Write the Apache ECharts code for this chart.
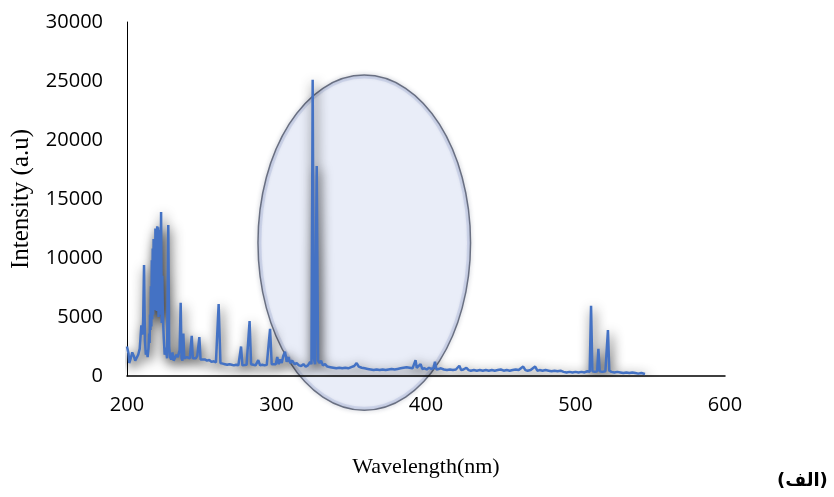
<!DOCTYPE html>
<html>
<head>
<meta charset="utf-8">
<script src="https://cdn.jsdelivr.net/npm/echarts@6/dist/echarts.min.js"></script>
<style>
html,body{margin:0;padding:0;background:#fff;}
#chart{width:834px;height:497px;}
</style>
</head>
<body>
<div id="chart"></div>
<script>
// Wavelength (nm)
var wavelengths = [
200.0,200.5,201.0,201.5,202.5,203.5,204.5,205.5,206.5,207.5,208.5,209.0,209.6,210.2,210.8,211.4,212.0,212.6,213.2,213.8,
214.4,214.8,215.1,215.4,215.7,216.0,216.3,216.6,216.9,217.2,217.5,217.8,218.1,218.4,218.7,219.0,219.3,219.6,219.9,220.2,
220.5,220.8,221.1,221.4,221.7,222.0,222.3,222.8,223.2,223.6,224.0,224.6,225.2,226.0,
226.8,227.6,228.2,228.8,229.6,230.4,231.2,232.0,233.0,234.0,235.2,235.9,236.5,237.1,237.7,238.3,239.0,240.0,241.0,242.0,
243.3,244.0,245.0,246.0,247.0,248.4,249.2,250.5,252.0,253.5,255.0,256.5,258.0,259.5,261.3,262.5,264.0,265.5,267.0,268.5,
270.0,271.5,273.0,274.5,276.3,277.2,278.5,280.0,282.0,283.0,284.5,286.0,287.8,289.0,290.5,292.0,293.5,295.7,296.8,298.0,
299.5,300.5,301.5,302.5,303.5,304.5,305.7,306.8,308.0,309.2,310.5,312.0,313.5,315.0,316.5,318.0,319.5,321.0,322.5,323.4,
324.2,325.0,325.8,326.9,327.8,328.8,329.8,331.0,332.5,334.0,336.0,338.0,340.0,342.0,344.0,346.0,348.0,350.0,352.0,353.6,
355.0,357.0,359.0,361.0,363.0,365.0,367.0,369.0,371.0,373.0,375.0,377.0,379.0,381.0,383.0,385.0,387.0,389.0,391.0,393.0,
393.8,395.0,396.4,397.5,399.0,400.5,402.0,403.5,405.0,406.0,407.0,408.5,410.0,412.0,414.0,416.0,418.0,420.0,422.3,423.5,
425.0,427.0,428.5,430.0,432.0,434.0,436.0,438.0,440.0,442.0,444.0,446.0,448.0,450.0,452.0,454.0,456.0,458.0,460.0,462.0,
465.0,466.5,468.0,470.0,473.0,474.5,476.0,478.0,480.0,482.0,484.0,486.0,488.0,490.0,492.0,494.0,496.0,498.0,500.0,502.0,
504.0,506.0,508.0,509.5,510.4,511.3,513.0,514.5,515.3,516.2,518.0,520.0,521.7,522.6,524.0,526.0,528.0,530.0,532.0,534.0,
536.0,538.0,540.0,542.0,544.0,546.5
];
// Intensity (a.u)
var intensities = [
2500,2200,1900,1100,1500,2000,1700,1300,1400,1800,2300,3200,4300,3500,4600,9400,3000,1800,2200,1600,
2400,3600,2800,5200,3900,7600,4200,9800,4800,10800,5200,11600,6200,10400,5600,12500,6800,11800,5500,12700,
6400,12600,5000,12400,6500,12000,5200,13900,4500,8500,5000,3200,1800,2400,
1500,12800,2500,1600,1400,2000,1300,1500,1800,1600,2200,6200,1500,1300,3600,1500,1400,1600,1700,1500,
3400,1500,1600,1500,1700,3300,1400,1300,1400,1300,1350,1200,1250,1150,6100,1100,1050,1000,950,1000,
950,900,950,900,2500,900,1000,950,4650,1000,950,900,1350,900,950,900,950,4000,1000,900,
1000,1600,1000,1400,1100,1700,2050,1200,1600,1100,1300,1000,1100,900,850,1000,800,900,1200,1000,
25100,1500,1000,17800,1300,1100,1300,900,1000,800,750,700,650,700,650,700,650,750,850,1100,
800,700,650,600,550,500,550,500,550,500,550,600,550,600,650,700,750,700,650,1350,
700,650,1000,600,650,550,700,600,650,1200,550,600,650,550,500,550,500,550,870,500,
550,700,500,450,500,450,500,450,500,450,500,450,500,550,450,500,450,500,550,500,
800,500,450,500,800,450,500,450,500,450,400,450,400,450,350,300,350,300,350,300,
350,300,400,350,5950,400,350,400,2300,400,350,400,3900,450,350,300,350,300,250,300,
250,300,250,200,250,170
];
var xTicks = [200, 300, 400, 500, 600];
var yTicks = [0, 5000, 10000, 15000, 20000, 25000, 30000];
var xTitle = 'Wavelength(nm)';
var yTitle = 'Intensity (a.u)';
var panelLabel = '(الف)';
// highlighted region (data space): center wavelength, center intensity, half-width, half-height
var ellipseCenter = [358.7, 11300];
var ellipseHalf = [71.1, 14200];

var seriesData = wavelengths.map(function (w, i) { return [w, intensities[i]]; });

var chart = echarts.init(document.getElementById('chart'));
var option = {
  animation: false,
  backgroundColor: '#ffffff',
  grid: { left: 127, right: 109, top: 22, bottom: 121, containLabel: false },
  xAxis: {
    type: 'value',
    min: xTicks[0], max: xTicks[xTicks.length - 1], interval: 100,
    name: xTitle, nameLocation: 'middle', nameGap: 80,
    nameTextStyle: { fontFamily: 'Liberation Serif', fontSize: 22, color: '#000' },
    axisLine: { show: true, lineStyle: { color: '#000', width: 1.5 } },
    axisTick: { show: false },
    splitLine: { show: false },
    axisLabel: { fontFamily: 'Open Sans', fontSize: 20, color: '#000', margin: 19,
      formatter: function (v) { return String(v); } },
    z: 3
  },
  yAxis: {
    type: 'value',
    min: yTicks[0], max: yTicks[yTicks.length - 1], interval: 5000,
    name: yTitle, nameLocation: 'middle', nameGap: 93, nameRotate: 90,
    nameTextStyle: { fontFamily: 'Liberation Serif', fontSize: 25, color: '#000' },
    axisLine: { show: true, lineStyle: { color: '#000', width: 1 } },
    axisTick: { show: false },
    splitLine: { show: false },
    axisLabel: { fontFamily: 'Open Sans', fontSize: 20, color: '#000', margin: 24,
      formatter: function (v) { return String(v); } },
    z: 3
  },
  series: [{
    type: 'line',
    data: seriesData,
    showSymbol: false,
    symbol: 'none',
    z: 4,
    lineStyle: {
      color: '#4472C4', width: 2.5,
      shadowColor: 'rgba(0,0,0,0.85)', shadowBlur: 12, shadowOffsetX: 2, shadowOffsetY: 4
    }
  }]
};
chart.setOption(option);

var c = chart.convertToPixel({ gridIndex: 0 }, ellipseCenter);
var e = chart.convertToPixel({ gridIndex: 0 }, [ellipseCenter[0] + ellipseHalf[0], ellipseCenter[1] + ellipseHalf[1]]);
var rx = Math.abs(e[0] - c[0]), ry = Math.abs(c[1] - e[1]);

chart.setOption({
  graphic: [
    {
      type: 'ellipse',
      z: 2,
      shape: { cx: c[0], cy: c[1], rx: rx, ry: ry },
      style: { fill: 'rgba(231,235,247,0.9)', stroke: null }
    },
    {
      type: 'ellipse',
      z: 2,
      shape: { cx: c[0], cy: c[1], rx: rx - 2, ry: ry - 2 },
      style: { fill: null, stroke: 'rgba(205,212,236,0.8)', lineWidth: 3 }
    },
    {
      type: 'ellipse',
      z: 2,
      shape: { cx: c[0], cy: c[1], rx: rx, ry: ry },
      style: {
        fill: null,
        stroke: 'rgba(85,92,112,0.85)',
        lineWidth: 1.5,
        shadowBlur: 4,
        shadowColor: 'rgba(60,70,100,0.5)'
      }
    },
    {
      type: 'text',
      z: 5,
      left: 777, top: 472,
      style: { text: panelLabel, font: 'bold 18px "DejaVu Sans"', fill: '#000' }
    }
  ]
});
</script>
</body>
</html>
